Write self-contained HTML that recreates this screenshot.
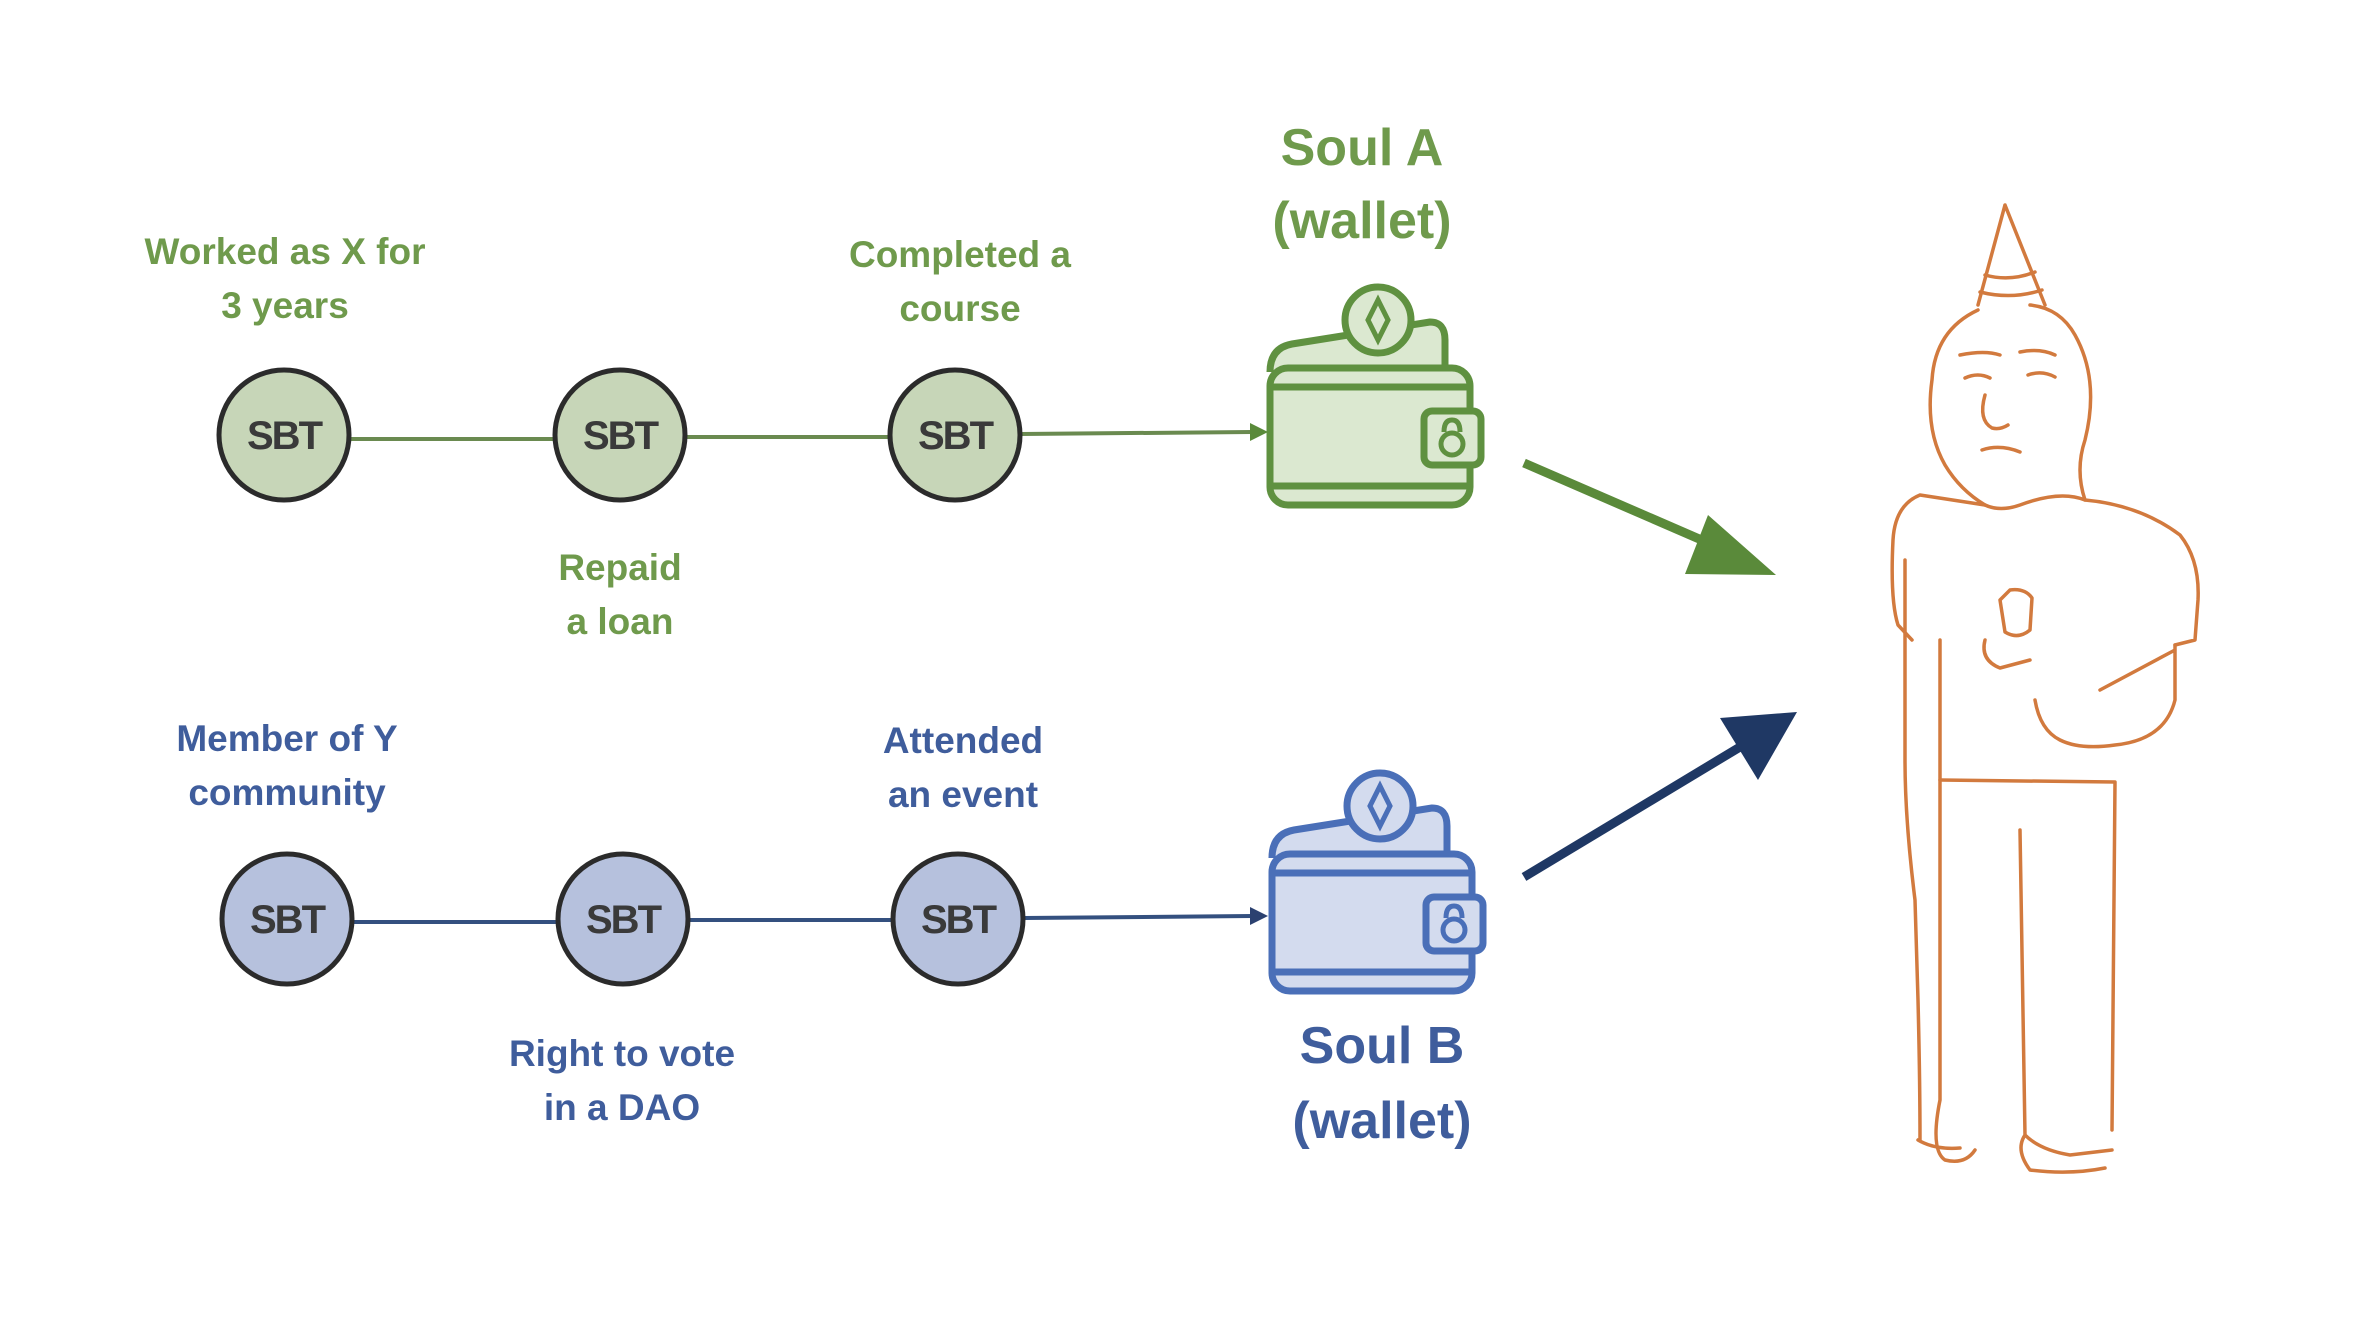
<!DOCTYPE html>
<html><head><meta charset="utf-8"><style>
html,body{margin:0;padding:0;background:#fff;}
svg{display:block;}
text{font-family:"Liberation Sans",sans-serif;font-weight:bold;text-anchor:middle;}
</style></head><body>
<svg width="2378" height="1318" viewBox="0 0 2378 1318" xmlns="http://www.w3.org/2000/svg">
<defs>
<g id="wal">
  <path d="M1270,372 Q1270,348 1292,344 L1430,322 Q1445,322 1445,340 L1445,372" stroke-width="7" stroke-linejoin="round"/>
  <rect x="1270" y="368" width="200" height="137" rx="18" stroke-width="7"/>
  <line x1="1272" y1="387" x2="1468" y2="387" stroke-width="7"/>
  <line x1="1272" y1="486" x2="1468" y2="486" stroke-width="7"/>
  <circle cx="1378" cy="320" r="33" stroke-width="7"/>
  <path d="M1378,300 L1388,320 L1378,340 L1368,320 Z" stroke-width="5" fill="none"/>
  <rect x="1424" y="411" width="57" height="54" rx="8" stroke-width="7"/>
  <path d="M1444,432 Q1444,420 1452,420 Q1460,420 1460,432" fill="none" stroke-width="5"/>
  <circle cx="1452" cy="444" r="11" stroke-width="5"/>
</g>
</defs>

<!-- Green row -->
<g fill="#6f9a4c" font-size="37">
  <text x="285" y="264">Worked as X for</text>
  <text x="285" y="318">3 years</text>
  <text x="960" y="267">Completed a</text>
  <text x="960" y="321">course</text>
  <text x="620" y="580">Repaid</text>
  <text x="620" y="634">a loan</text>
</g>
<g fill="#6f9a4c" font-size="52">
  <text x="1362" y="165">Soul A</text>
  <text x="1362" y="238">(wallet)</text>
</g>
<g stroke="#6a8a50" stroke-width="4">
  <line x1="350" y1="439" x2="555" y2="439"/>
  <line x1="686" y1="437" x2="890" y2="437"/>
  <line x1="1021" y1="434" x2="1252" y2="432"/>
</g>
<path d="M1250,423 L1268,432 L1250,441 Z" fill="#5a8a3a"/>
<g fill="#c7d6b8" stroke="#2b2b2b" stroke-width="5">
  <circle cx="284" cy="435" r="65"/>
  <circle cx="620" cy="435" r="65"/>
  <circle cx="955" cy="435" r="65"/>
</g>
<g fill="#3a3a3a" font-size="40" style="letter-spacing:-2px">
  <text x="284" y="449">SBT</text>
  <text x="620" y="449">SBT</text>
  <text x="955" y="449">SBT</text>
</g>
<g fill="#dbe8d0" stroke="#5f9140"><use href="#wal"/></g>

<!-- Blue row -->
<g fill="#3f5d9c" font-size="37">
  <text x="287" y="751">Member of Y</text>
  <text x="287" y="805">community</text>
  <text x="963" y="753">Attended</text>
  <text x="963" y="807">an event</text>
  <text x="622" y="1066">Right to vote</text>
  <text x="622" y="1120">in a DAO</text>
</g>
<g fill="#3f5d9c" font-size="52">
  <text x="1382" y="1063">Soul B</text>
  <text x="1382" y="1138">(wallet)</text>
</g>
<g stroke="#34507f" stroke-width="4">
  <line x1="353" y1="922" x2="558" y2="922"/>
  <line x1="689" y1="920" x2="893" y2="920"/>
  <line x1="1024" y1="918" x2="1252" y2="916"/>
</g>
<path d="M1250,907 L1268,916 L1250,925 Z" fill="#2b4170"/>
<g fill="#b6c1dd" stroke="#2b2b2b" stroke-width="5">
  <circle cx="287" cy="919" r="65"/>
  <circle cx="623" cy="919" r="65"/>
  <circle cx="958" cy="919" r="65"/>
</g>
<g fill="#3a3a3a" font-size="40" style="letter-spacing:-2px">
  <text x="287" y="933">SBT</text>
  <text x="623" y="933">SBT</text>
  <text x="958" y="933">SBT</text>
</g>
<g fill="#d3dbee" stroke="#4a6fb8" transform="translate(2,486)"><use href="#wal"/></g>

<!-- Big arrows -->
<line x1="1524" y1="463" x2="1720" y2="548" stroke="#5a8a3a" stroke-width="9"/>
<path d="M1708,515 L1776,575 L1685,574 Z" fill="#5a8a3a"/>
<line x1="1524" y1="877" x2="1740" y2="747" stroke="#1f3864" stroke-width="9"/>
<path d="M1720,718 L1797,712 L1758,780 Z" fill="#1f3864"/>

<!-- Figure -->
<g fill="none" stroke="#d27a3e" stroke-width="3.5" stroke-linejoin="round" stroke-linecap="round">
  <path d="M2005,205 L1978,305 M2005,205 L2045,305"/>
  <path d="M1985,275 Q2010,282 2035,272 M1980,292 Q2012,300 2042,290"/>
  <path d="M1978,310 Q1935,330 1932,380 Q1925,430 1945,465 Q1960,490 1985,505 Q2000,512 2020,505 Q2060,490 2085,500 Q2075,470 2085,440 Q2100,380 2075,335 Q2060,308 2030,305"/>
  <path d="M1960,355 Q1985,350 2000,355 M2020,352 Q2040,348 2055,355"/>
  <path d="M1965,378 Q1978,372 1990,378 M2028,375 Q2042,370 2055,377"/>
  <path d="M1985,395 Q1978,420 1992,428 Q2000,430 2008,425"/>
  <path d="M1982,450 Q2000,444 2020,452"/>
  <path d="M1920,495 Q1895,505 1893,540 Q1890,600 1898,625 L1912,640 M1920,495 L1985,505 M2085,500 Q2140,505 2180,535 Q2200,560 2198,600 L2195,640 L2175,645"/>
  <path d="M1905,560 L1905,760 Q1905,820 1915,900 L1918,1000 Q1920,1080 1920,1140"/>
  <path d="M1940,640 L1940,780 L1940,1100 Q1930,1150 1945,1160 Q1965,1165 1975,1150"/>
  <path d="M1940,780 L2115,782 L2112,1130"/>
  <path d="M2175,645 L2175,700 Q2165,740 2115,745 Q2080,750 2060,740 Q2040,730 2035,700 M2175,650 L2100,690"/>
  <path d="M2000,600 L2010,590 Q2025,588 2032,598 L2030,630 Q2018,640 2005,632 Z"/>
  <path d="M1985,640 Q1980,660 2000,668 L2030,660"/>
  <path d="M2020,830 L2025,1135 Q2040,1150 2070,1155 L2112,1150 M2025,1135 Q2015,1150 2030,1170 Q2070,1175 2105,1168"/>
  <path d="M1918,1140 Q1935,1150 1960,1148"/>
</g>
</svg>
</body></html>
